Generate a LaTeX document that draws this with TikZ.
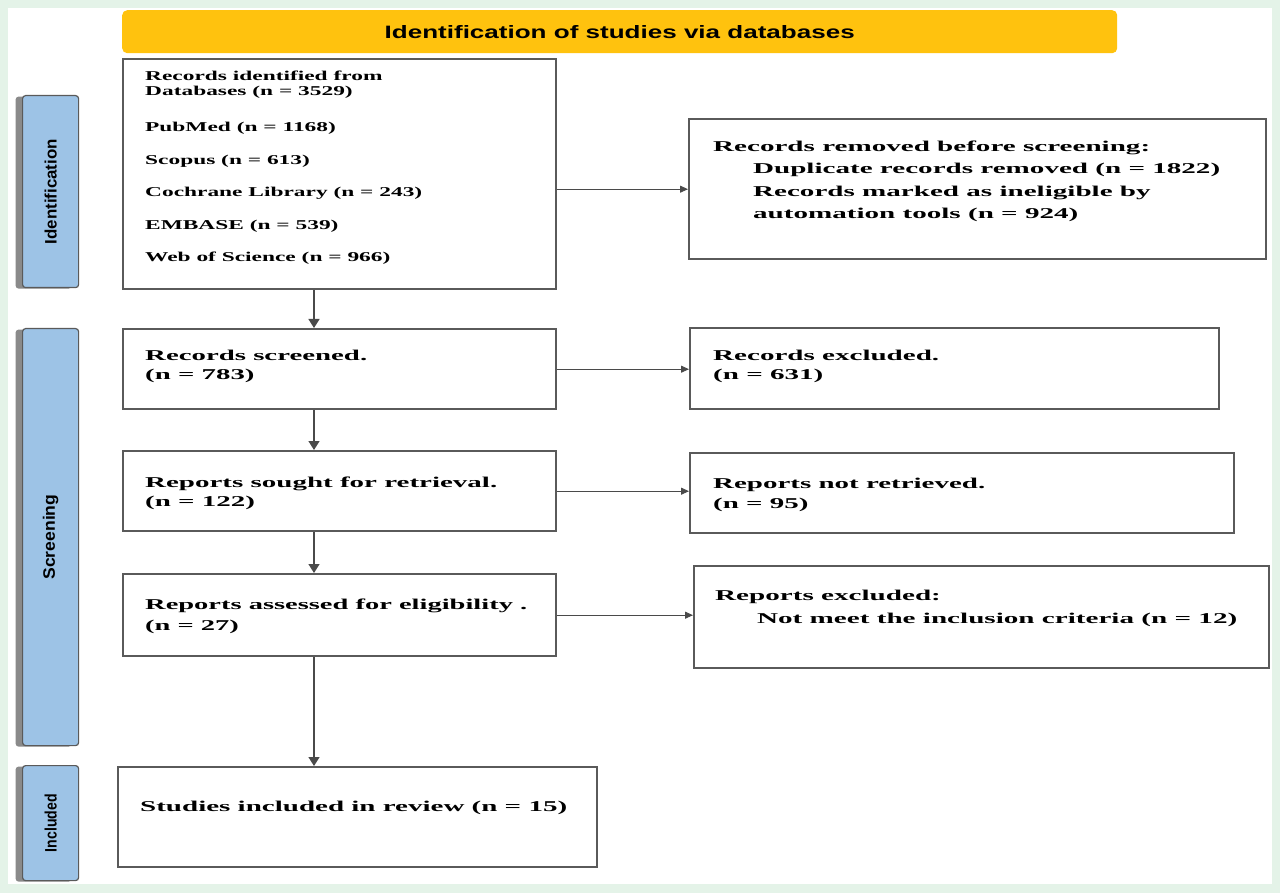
\documentclass[tikz,border=0pt]{standalone}
\usepackage{fontspec}
\usepackage{graphicx}
\setmainfont{Liberation Serif}
\newfontfamily\lsans{Liberation Sans}
\usetikzlibrary{arrows.meta,shadows}
\definecolor{bggreen}{HTML}{E4F3E8}
\definecolor{bannery}{HTML}{FFC20E}
\definecolor{labblue}{HTML}{9DC3E6}
\definecolor{boxline}{HTML}{5A5A5A}
\definecolor{shadowgray}{HTML}{8A8A8A}
\definecolor{arrgray}{HTML}{4A4A4A}
\newcommand\wtext[2]{\resizebox{#1pt}{\height}{\begin{tabular}[t]{@{}l@{}}#2\end{tabular}}}
\tikzset{
  box/.style={draw=boxline, line width=2.4pt, fill=white, rectangle, inner sep=0pt, anchor=north west},
  lab/.style={draw=boxline, line width=1.2pt, fill=labblue, rectangle, rounded corners=3pt, inner sep=0pt, anchor=north west,
    drop shadow={shadow xshift=-7pt, shadow yshift=-1pt, fill=shadowgray, opacity=1}},
  labtxt/.style={rotate=90, inner sep=0pt, font=\lsans\bfseries\fontsize{13}{15}\selectfont},
  banner/.style={fill=bannery, rounded corners=5pt, rectangle, inner sep=0pt, anchor=north west,
    font=\lsans\bfseries\fontsize{15}{17}\selectfont},
  txt/.style={inner sep=0pt, anchor=base west, font=\bfseries\fontsize{15}{21}\selectfont},
  txtA/.style={inner sep=0pt, anchor=base west, font=\bfseries\fontsize{13.5}{15}\selectfont},
  varr/.style={draw=arrgray, line width=1.3pt, -{Triangle[length=9pt,width=11pt]}},
  harr/.style={draw=gray, line width=1pt, -{Triangle[length=8pt,width=7pt]}, arrgray}
}
\begin{document}
\begin{tikzpicture}[x=1pt,y=-1pt]
\useasboundingbox (0,0) rectangle (1280,893);
\fill[bggreen] (0,0) rectangle (1280,893);
\fill[white] (8,8) rectangle (1272,884);

% banner
\node[banner, minimum width=995pt, minimum height=43pt] (ban) at (122,10)
  {\resizebox{470pt}{13pt}{Identification of studies via databases}};

% phase labels
\node[lab, minimum width=56pt, minimum height=192pt] (lid) at (22,95) {};
\node[labtxt] (lidt) at (lid.center) {\resizebox{105pt}{12pt}{Identification}};
\node[lab, minimum width=56pt, minimum height=417pt] (lsc) at (22,328) {};
\node[labtxt] (lsct) at (lsc.center) {\resizebox{85pt}{12pt}{Screening}};
\node[lab, minimum width=56pt, minimum height=115pt] (lin) at (22,765) {};
\node[labtxt] (lint) at (lin.center) {\resizebox{58pt}{12pt}{Included}};

% left column boxes
\node[box, minimum width=433pt, minimum height=230pt] (b1) at (122,58) {};
\node[box, minimum width=433pt, minimum height=80pt] (b2) at (122,328) {};
\node[box, minimum width=433pt, minimum height=80pt] (b3) at (122,450) {};
\node[box, minimum width=433pt, minimum height=82pt] (b4) at (122,573) {};
\node[box, minimum width=479pt, minimum height=100pt] (b5) at (117,766) {};

% right column boxes
\node[box, minimum width=577pt, minimum height=140pt] (r1) at (688,118) {};
\node[box, minimum width=529pt, minimum height=81pt] (r2) at (689,327) {};
\node[box, minimum width=544pt, minimum height=80pt] (r3) at (689,452) {};
\node[box, minimum width=575pt, minimum height=102pt] (r4) at (693,565) {};

% texts
\node[txtA] (t1) at (145,81) {\wtext{277}{Records identified from\\ Databases (n = 3529)\\[20pt] PubMed (n = 1168)\\[18pt] Scopus (n = 613)\\[17pt] Cochrane Library (n = 243)\\[18pt] EMBASE (n = 539)\\[17pt] Web of Science (n = 966)}};
\node[txt] (t2) at (145,360) {\wtext{222}{Records screened.\\[-2pt] (n = 783)}};
\node[txt] (t3) at (145,487) {\wtext{352}{Reports sought for retrieval.\\[-2pt] (n = 122)}};
\node[txt] (t4) at (145,609) {\wtext{382}{Reports assessed for eligibility .\\ (n = 27)}};
\node[txt] (t5) at (140,811) {\wtext{427}{Studies included in review (n = 15)}};

\node[txt] (u1) at (713,152) {\wtext{507}{Records removed before screening:\\[1pt] \hspace{20.6pt}Duplicate records removed (n = 1822)\\[1pt] \hspace{20.6pt}Records marked as ineligible by\\[1pt] \hspace{20.6pt}automation tools (n = 924)}};
\node[txt] (u2) at (713,360) {\wtext{226}{Records excluded.\\[-2pt] (n = 631)}};
\node[txt] (u3) at (713,488) {\wtext{272}{Reports not retrieved.\\[-1pt] (n = 95)}};
\node[txt] (u4) at (715,600) {\wtext{522}{Reports excluded:\\[2pt] \hspace{21.6pt}Not meet the inclusion criteria (n = 12)}};

% connectors
\coordinate (ax) at (314,0);
\draw[varr] (b1.south -| ax) -- (b2.north -| ax);
\draw[varr] (b2.south -| ax) -- (b3.north -| ax);
\draw[varr] (b3.south -| ax) -- (b4.north -| ax);
\draw[varr] (b4.south -| ax) -- (b5.north -| ax);

\draw[harr] (r1.west -| b1.east) -- (r1.west);
\draw[harr] (b2.east) -- (b2.east -| r2.west);
\draw[harr] (b3.east) -- (b3.east -| r3.west);
\draw[harr] (b4.east) -- (b4.east -| r4.west);
\end{tikzpicture}
\end{document}
